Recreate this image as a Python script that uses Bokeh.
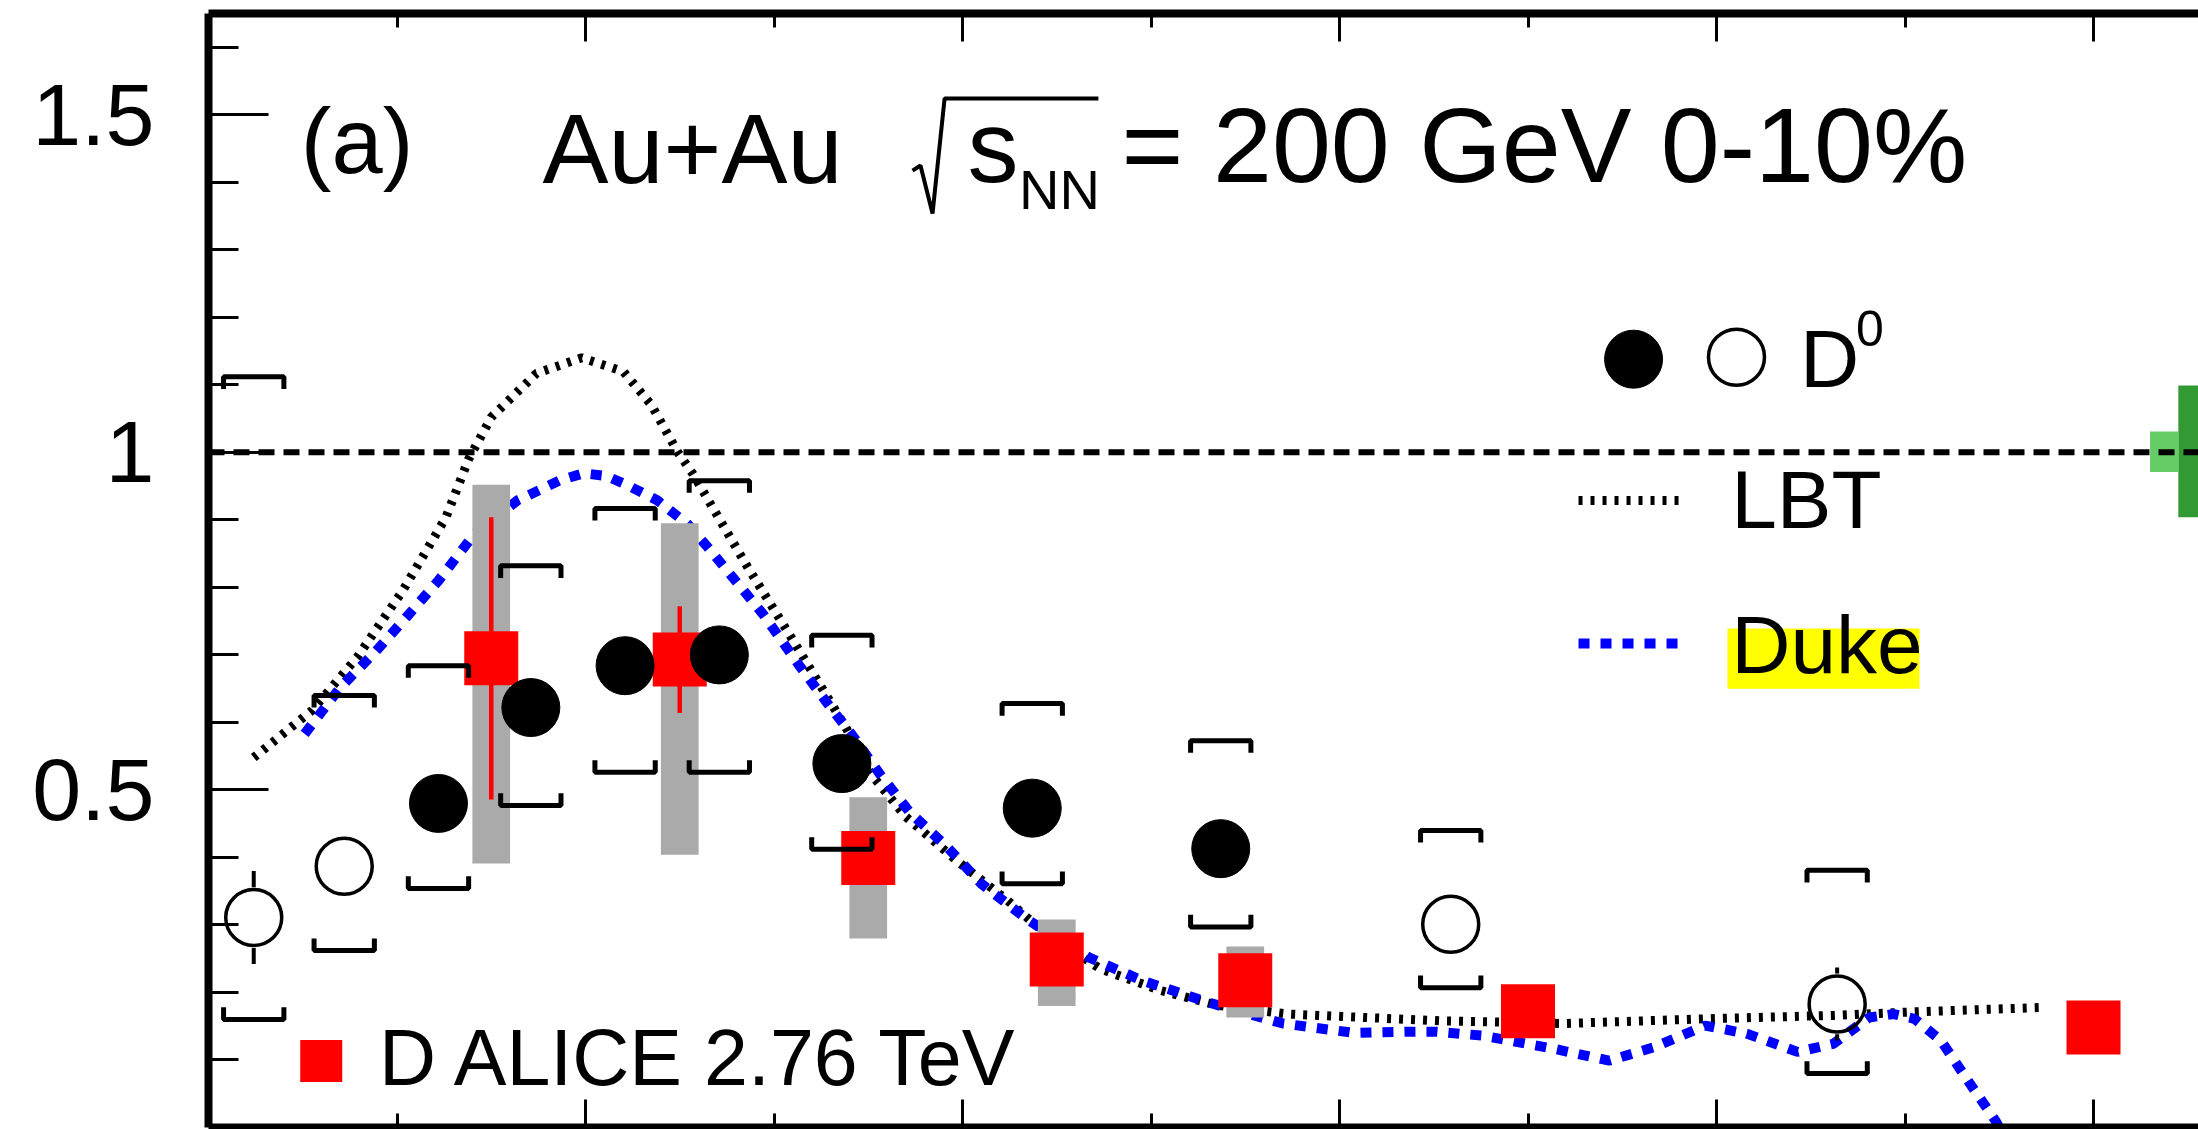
from bokeh.plotting import figure
from bokeh.models import (LinearAxis, FixedTicker, Label, Range1d, Span,
                          CustomJSTickFormatter)
from bokeh.embed import file_html
from bokeh.resources import INLINE

nan = float("nan")

# STAR D0 nuclear modification factor, Au+Au 200 GeV, 0-10%
d0_pt = [0.24, 0.72, 1.22, 1.71, 2.21, 2.71, 3.36, 4.37, 5.37, 6.59, 8.64]
d0_raa = [0.311, 0.387, 0.480, 0.622, 0.684, 0.700, 0.539, 0.473, 0.413, 0.301, 0.183]
d0_stat = [0.069, 0, 0, 0, 0, 0, 0, 0, 0, 0, 0.054]
d0_sys_lo = [0.160, 0.262, 0.354, 0.477, 0.526, 0.526, 0.412, 0.361, 0.297, 0.207, 0.080]
d0_sys_hi = [1.112, 0.640, 0.684, 0.832, 0.917, 0.958, 0.729, 0.628, 0.573, 0.440, 0.381]
d0_filled = [False, False, True, True, True, True, True, True, True, False, False]

# ALICE D mesons, Pb+Pb 2.76 TeV
alice_pt = [1.5, 2.5, 3.5, 4.5, 5.5, 7.0, 10.0]
alice_raa = [0.695, 0.693, 0.399, 0.249, 0.218, 0.172, 0.148]
alice_stat = [0.209, 0.079, 0, 0, 0, 0, 0]
alice_sys_lo = [0.391, 0.404, 0.280, 0.180, 0.163, nan, nan]
alice_sys_hi = [0.952, 0.895, 0.489, 0.308, 0.268, nan, nan]

# Model curves
lbt_pt = [0.24, 0.55, 0.79, 1.03, 1.26, 1.38, 1.50, 1.74, 1.98, 2.20, 2.35, 2.49,
          2.57, 2.86, 3.08, 3.38, 3.51, 3.70, 3.97, 4.24, 4.40, 4.73, 5.05, 5.35,
          5.73, 6.13, 6.54, 7.19, 7.94, 8.62, 9.02, 9.75]
lbt_raa = [0.548, 0.618, 0.697, 0.795, 0.904, 0.990, 1.052, 1.117, 1.140, 1.120, 1.070, 1.000,
           0.968, 0.830, 0.731, 0.593, 0.525, 0.460, 0.395, 0.336, 0.297, 0.235, 0.203, 0.181,
           0.168, 0.163, 0.158, 0.154, 0.161, 0.166, 0.171, 0.178]

duke_pt = [0.51, 0.70, 0.89, 1.05, 1.22, 1.41, 1.64, 1.86, 1.99, 2.11, 2.21, 2.38,
           2.54, 2.65, 2.84, 2.94, 3.14, 3.30, 3.41, 3.56, 3.72, 3.92, 4.10, 4.35,
           4.67, 4.95, 5.32, 5.70, 6.08, 6.35, 6.51, 6.76, 7.13, 7.43, 7.67, 7.94,
           8.16, 8.43, 8.62, 8.81, 8.94, 9.05, 9.19, 9.32, 9.48, 9.56]
duke_raa = [0.583, 0.652, 0.706, 0.756, 0.810, 0.879, 0.929, 0.958, 0.969, 0.965, 0.953, 0.929,
            0.894, 0.859, 0.795, 0.761, 0.682, 0.622, 0.583, 0.524, 0.467, 0.415, 0.361, 0.307,
            0.252, 0.218, 0.184, 0.154, 0.140, 0.142, 0.142, 0.136, 0.117, 0.099, 0.119, 0.151,
            0.139, 0.112, 0.124, 0.163, 0.168, 0.161, 0.129, 0.075, 0.010, -0.030]

# Global normalisation uncertainties at unity
norm_dark = dict(left=10.45, right=10.80, bottom=0.904, top=1.099)
norm_light = dict(left=10.30, right=10.45, bottom=0.971, top=1.031)

# Axis ticks
x_major = [2, 4, 6, 8, 10]
x_minor = [1, 3, 5, 7, 9]
y_major = [0.5, 1.0, 1.5]
y_labels = ["0.5", "1", "1.5"]
y_minor = [0.1, 0.2, 0.3, 0.4, 0.6, 0.7, 0.8, 0.9, 1.1, 1.2, 1.3, 1.4, 1.6]

FONT = "Liberation Sans"
RED = "#ff0000"
BLUE = "#0000ff"

p = figure(width=2198, height=1129, x_range=Range1d(0, 10.557), y_range=Range1d(0, 1.65),
           output_backend="svg", toolbar_location=None,
           min_border_left=208, min_border_right=0, min_border_top=13, min_border_bottom=2)
p.grid.visible = False
p.outline_line_color = None
p.background_fill_color = "white"
p.border_fill_color = "white"

x_ticker = FixedTicker(ticks=x_major, minor_ticks=x_minor)
blank = CustomJSTickFormatter(code="return ''")


def style_x(ax):
    ax.ticker = x_ticker
    ax.formatter = blank
    ax.axis_line_width = 8
    ax.axis_line_color = "black"
    ax.major_tick_line_width = 3
    ax.minor_tick_line_width = 3
    ax.major_tick_in = 28
    ax.major_tick_out = 0
    ax.minor_tick_in = 14
    ax.minor_tick_out = 0
    ax.major_label_text_font_size = "1px"
    ax.major_label_standoff = 0


style_x(p.xaxis[0])
top_axis = LinearAxis()
style_x(top_axis)
p.add_layout(top_axis, "above")

ya = p.yaxis[0]
ya.ticker = FixedTicker(ticks=y_major, minor_ticks=y_minor)
ya.major_label_overrides = dict(zip(y_major, y_labels))
ya.axis_line_width = 8
ya.axis_line_color = "black"
ya.major_tick_line_width = 3
ya.minor_tick_line_width = 3
ya.major_tick_in = 60
ya.major_tick_out = 0
ya.minor_tick_in = 30
ya.minor_tick_out = 0
ya.major_label_text_font = FONT
ya.major_label_text_font_size = "88px"
ya.major_label_text_color = "black"
ya.major_label_standoff = 54

# unity reference
p.add_layout(Span(location=1.0, dimension="width", line_color="black",
                  line_width=6, line_dash="16 9"))

# model curves
p.line(lbt_pt, lbt_raa, line_color="black", line_width=9, line_dash="4 8")
p.line(duke_pt, duke_raa, line_color=BLUE, line_width=10, line_dash="11 11")

# normalisation boxes
p.quad(color="#339933", line_color=None, **{k: [v] for k, v in norm_dark.items()})
p.quad(color="#66cc66", line_color=None, **{k: [v] for k, v in norm_light.items()})

# ALICE: systematic boxes, statistical bars, markers
p.vbar(x=alice_pt, bottom=alice_sys_lo, top=alice_sys_hi, width=0.2,
       fill_color="#aaaaaa", line_color=None)
p.segment(x0=alice_pt, x1=alice_pt,
          y0=[r - e for r, e in zip(alice_raa, alice_stat)],
          y1=[r + e for r, e in zip(alice_raa, alice_stat)],
          line_color=RED, line_width=4.5)
p.scatter(alice_pt, alice_raa, marker="square", size=54, fill_color=RED, line_color=None)

# STAR D0: systematic brackets
hw, leg = 0.16, 0.018
bx, by = [], []
for x, lo, hi in zip(d0_pt, d0_sys_lo, d0_sys_hi):
    bx.append([x - hw, x - hw, x + hw, x + hw])
    by.append([hi - leg, hi, hi, hi - leg])
    bx.append([x - hw, x - hw, x + hw, x + hw])
    by.append([lo + leg, lo, lo, lo + leg])
p.multi_line(bx, by, line_color="black", line_width=5)

# STAR D0: statistical bars, drawn outside the marker
rad = 0.045
sx0, sy0, sy1 = [], [], []
for x, r, e in zip(d0_pt, d0_raa, d0_stat):
    if e > rad:
        sx0 += [x, x]
        sy0 += [r + rad, r - rad]
        sy1 += [r + e, r - e]
p.segment(x0=sx0, x1=sx0, y0=sy0, y1=sy1, line_color="black", line_width=4)

fx = [x for x, f in zip(d0_pt, d0_filled) if f]
fy = [y for y, f in zip(d0_raa, d0_filled) if f]
ox = [x for x, f in zip(d0_pt, d0_filled) if not f]
oy = [y for y, f in zip(d0_raa, d0_filled) if not f]
p.scatter(fx, fy, marker="circle", size=58, fill_color="black", line_color="black", line_width=1)
p.scatter(ox, oy, marker="circle", size=56, fill_color=None, line_color="black", line_width=3.5)

# legend entries
p.scatter([7.560], [1.138], marker="circle", size=58, fill_color="black", line_color="black")
p.scatter([8.106], [1.141], marker="circle", size=56, fill_color=None, line_color="black",
          line_width=3.5)
p.line([7.268, 7.836], [0.9286, 0.9286], line_color="black", line_width=9, line_dash="4 8")
p.line([7.268, 7.836], [0.7168, 0.7168], line_color=BLUE, line_width=10, line_dash="11 11")
p.quad(left=[8.058], right=[9.077], bottom=[0.650], top=[0.739],
       fill_color="#ffff00", line_color=None)
p.scatter([0.598], [0.0985], marker="square", size=42, fill_color=RED, line_color=None)

# radical sign of sqrt(s_NN)
p.line([3.735, 3.777, 3.841, 3.905, 4.721], [1.4173, 1.4248, 1.3537, 1.524, 1.524],
       line_color="black", line_width=4)


def label(x, y, text, size_px):
    # alphabetic anchoring in the renderer sits ~0.38 em low; lift to the baseline
    lift = 0.38 * size_px / 675.2
    p.add_layout(Label(x=x, y=y + lift, text=text, text_font=FONT,
                       text_font_size=f"{size_px}px", text_color="black",
                       text_align="left", text_baseline="alphabetic"))


label(0.49, 1.410, "(a)", 92)
label(1.772, 1.395, "Au+Au", 99)
label(4.027, 1.395, "s", 102)
label(4.30, 1.358, "NN", 56)
label(4.844, 1.395, "= 200 GeV 0-10%", 106)
label(8.443, 1.093, "D", 82)
label(8.740, 1.156, "0", 50)
label(8.078, 0.884, "LBT", 82)
label(8.078, 0.669, "Duke", 82)
label(0.905, 0.0588, "D ALICE 2.76 TeV", 79)

open("out.html", "w").write(file_html(p, INLINE))
